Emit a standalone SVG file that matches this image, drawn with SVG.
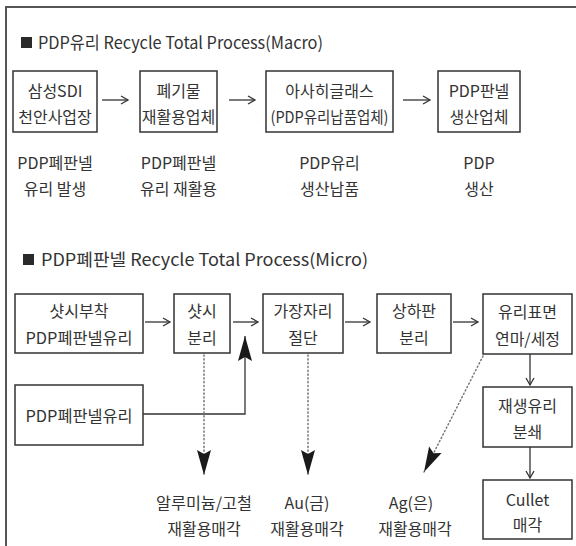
<svg xmlns="http://www.w3.org/2000/svg" width="576" height="546" viewBox="0 0 576 546">
<style>
text{font-family:"Noto Sans CJK KR","Noto Sans",sans-serif;fill:#333;font-size:16px;text-anchor:middle}
.title{font-size:17px;text-anchor:start}
.box{fill:#fff;stroke:#333;stroke-width:1.5}
.ln{fill:none;stroke:#333;stroke-width:1.3}
.dot{fill:none;stroke:#777;stroke-width:1.5;stroke-dasharray:1.2 2.6;stroke-linecap:round}
.frame{fill:none;stroke:#555;stroke-width:2}
</style>
<defs>
<marker id="open" viewBox="-10 -6 12 12" refX="0" refY="0" markerWidth="12" markerHeight="12" markerUnits="userSpaceOnUse" orient="auto">
<path d="M-7,-4 L0,0 L-7,4" fill="none" stroke="#333" stroke-width="1.3"/>
</marker>
<marker id="big" viewBox="-26 -9 28 18" refX="0" refY="0" markerWidth="28" markerHeight="18" markerUnits="userSpaceOnUse" orient="auto">
<path d="M0,0 L-25,-7 L-21,0 L-25,7 Z" fill="#1a1a1a"/>
</marker>
</defs>
<rect width="576" height="546" fill="#fff"/>
<path class="frame" d="M576,7 L6,7 L6,546"/>

<g id="title-macro">
<rect x="21" y="37" width="11" height="11" fill="#2a2a2a"/>
<text class="title" x="38" y="49" textLength="285" lengthAdjust="spacingAndGlyphs">PDP유리 Recycle Total Process(Macro)</text>
</g>

<g id="m1"><rect class="box" x="13" y="71" width="84" height="61"/><text x="55" y="97">삼성SDI</text><text x="55" y="123">천안사업장</text></g>
<g id="m2"><rect class="box" x="140" y="71" width="77" height="61"/><text x="178.5" y="97">폐기물</text><text x="178.5" y="123">재활용업체</text></g>
<g id="m3"><rect class="box" x="266" y="71" width="127" height="61"/><text x="329.5" y="97">아사히글래스</text><text x="329.5" y="123" textLength="118" lengthAdjust="spacingAndGlyphs">(PDP유리납품업체)</text></g>
<g id="m4"><rect class="box" x="438" y="71" width="82" height="61"/><text x="479" y="97">PDP판넬</text><text x="479" y="123">생산업체</text></g>

<g id="macro-labels">
<text x="55" y="169">PDP폐판넬</text><text x="55" y="195">유리 발생</text>
<text x="178.5" y="169">PDP폐판넬</text><text x="178.5" y="195">유리 재활용</text>
<text x="329.5" y="169">PDP유리</text><text x="329.5" y="195">생산납품</text>
<text x="479" y="169">PDP</text><text x="479" y="195">생산</text>
</g>

<g id="title-micro">
<rect x="23" y="254" width="11" height="11" fill="#2a2a2a"/>
<text class="title" x="41" y="266" textLength="327" lengthAdjust="spacingAndGlyphs">PDP폐판넬 Recycle Total Process(Micro)</text>
</g>

<g id="a"><rect class="box" x="15" y="294" width="128" height="59"/><text x="79" y="317">샷시부착</text><text x="79" y="344" textLength="107" lengthAdjust="spacingAndGlyphs">PDP폐판넬유리</text></g>
<g id="b"><rect class="box" x="174" y="294" width="56" height="59"/><text x="202" y="317">샷시</text><text x="202" y="344">분리</text></g>
<g id="c"><rect class="box" x="263" y="294" width="80" height="59"/><text x="303" y="317">가장자리</text><text x="303" y="344">절단</text></g>
<g id="d"><rect class="box" x="377" y="294" width="74" height="59"/><text x="414" y="317">상하판</text><text x="414" y="344">분리</text></g>
<g id="e"><rect class="box" x="483" y="294" width="89" height="60"/><text x="527.5" y="318">유리표면</text><text x="527.5" y="345">연마/세정</text></g>
<g id="f"><rect class="box" x="483" y="387" width="89" height="60"/><text x="527.5" y="412">재생유리</text><text x="527.5" y="438">분쇄</text></g>
<g id="g"><rect class="box" x="483" y="480" width="89" height="59"/><text x="527.5" y="506">Cullet</text><text x="527.5" y="531">매각</text></g>
<g id="h"><rect class="box" x="15" y="385" width="128" height="60"/><text x="79" y="422" textLength="107" lengthAdjust="spacingAndGlyphs">PDP폐판넬유리</text></g>

<g id="micro-labels">
<text x="204" y="509" textLength="96" lengthAdjust="spacingAndGlyphs">알루미늄/고철</text><text x="204" y="535">재활용매각</text>
<text x="307" y="509">Au(금)</text><text x="307" y="535">재활용매각</text>
<text x="411" y="509">Ag(은)</text><text x="415" y="535">재활용매각</text>
</g>

<g id="connectors">
<line class="ln" x1="102" y1="100" x2="128" y2="100" marker-end="url(#open)"/>
<line class="ln" x1="229" y1="100" x2="255" y2="100" marker-end="url(#open)"/>
<line class="ln" x1="403" y1="100" x2="430" y2="100" marker-end="url(#open)"/>
<line class="ln" x1="145" y1="322" x2="170" y2="322" marker-end="url(#open)"/>
<line class="ln" x1="233" y1="322" x2="258" y2="322" marker-end="url(#open)"/>
<line class="ln" x1="345" y1="322" x2="370" y2="322" marker-end="url(#open)"/>
<line class="ln" x1="453" y1="322" x2="478" y2="322" marker-end="url(#open)"/>
<line class="ln" x1="530" y1="354" x2="530" y2="385" marker-end="url(#open)"/>
<line class="ln" x1="530" y1="447" x2="530" y2="478" marker-end="url(#open)"/>
<polyline class="ln" points="143,414 245,414 245,336" marker-end="url(#big)"/>
<line class="dot" x1="204" y1="355" x2="204" y2="475" marker-end="url(#big)"/>
<line class="dot" x1="308" y1="355" x2="308" y2="475" marker-end="url(#big)"/>
<line class="dot" x1="483" y1="356" x2="424" y2="472" marker-end="url(#big)"/>
</g>
</svg>
